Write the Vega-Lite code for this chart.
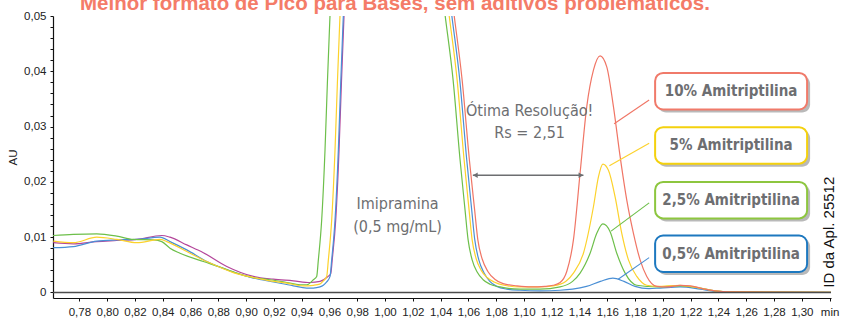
{
  "$schema": "https://vega.github.io/schema/vega-lite/v6.json",
  "autosize": {"type": "none"},
  "width": 778,
  "height": 282,
  "padding": {"left": 53, "top": 16, "right": 14, "bottom": 20},
  "background": "white",
  "config": {"view": {"stroke": null}, "axis": {"grid": false}},
  "datasets": {
    "curves": [
      {"s":"p","x":0.7612,"y":0.0090},{"s":"p","x":0.7756,"y":0.0088},{"s":"p","x":0.7925,"y":0.0092},{"s":"p","x":0.8069,"y":0.0094},{"s":"p","x":0.8213,"y":0.0096},{"s":"p","x":0.8393,"y":0.0103},{"s":"p","x":0.8452,"y":0.0100},{"s":"p","x":0.8573,"y":0.0086},{"s":"p","x":0.8692,"y":0.0072},{"s":"p","x":0.8861,"y":0.0047},{"s":"p","x":0.9052,"y":0.0029},{"s":"p","x":0.9196,"y":0.0024},{"s":"p","x":0.9340,"y":0.0021},{"s":"p","x":0.9460,"y":0.0018},{"s":"p","x":0.9532,"y":0.0020},{"s":"p","x":0.9585,"y":0.0028},{"s":"p","x":0.9609,"y":0.0034},{"s":"p","x":0.9621,"y":0.0062},{"s":"p","x":0.9645,"y":0.0131},{"s":"p","x":0.9669,"y":0.0258},{"s":"p","x":0.9686,"y":0.0379},{"s":"p","x":0.9705,"y":0.0502},{"s":"p","x":0.9728,"y":0.0650},{"s":"p","x":1.0000,"y":0.5000},
      {"s":"b","x":0.7612,"y":0.0081},{"s":"b","x":0.7756,"y":0.0083},{"s":"b","x":0.7925,"y":0.0093},{"s":"b","x":0.8069,"y":0.0095},{"s":"b","x":0.8213,"y":0.0096},{"s":"b","x":0.8380,"y":0.0100},{"s":"b","x":0.8452,"y":0.0092},{"s":"b","x":0.8573,"y":0.0077},{"s":"b","x":0.8717,"y":0.0056},{"s":"b","x":0.8861,"y":0.0041},{"s":"b","x":0.9052,"y":0.0026},{"s":"b","x":0.9196,"y":0.0019},{"s":"b","x":0.9340,"y":0.0012},{"s":"b","x":0.9436,"y":0.0008},{"s":"b","x":0.9484,"y":0.0008},{"s":"b","x":0.9532,"y":0.0010},{"s":"b","x":0.9556,"y":0.0013},{"s":"b","x":0.9580,"y":0.0019},{"s":"b","x":0.9604,"y":0.0029},{"s":"b","x":0.9616,"y":0.0059},{"s":"b","x":0.9640,"y":0.0131},{"s":"b","x":0.9664,"y":0.0258},{"s":"b","x":0.9681,"y":0.0379},{"s":"b","x":0.9700,"y":0.0502},{"s":"b","x":0.9723,"y":0.0650},{"s":"b","x":1.0000,"y":0.5000},{"s":"b","x":1.0407,"y":0.0650},{"s":"b","x":1.0480,"y":0.0502},{"s":"b","x":1.0538,"y":0.0384},{"s":"b","x":1.0588,"y":0.0240},{"s":"b","x":1.0624,"y":0.0149},{"s":"b","x":1.0646,"y":0.0095},{"s":"b","x":1.0675,"y":0.0059},{"s":"b","x":1.0711,"y":0.0036},{"s":"b","x":1.0754,"y":0.0020},{"s":"b","x":1.0804,"y":0.0011},{"s":"b","x":1.0876,"y":0.0006},{"s":"b","x":1.0972,"y":0.0004},{"s":"b","x":1.1116,"y":0.0003},{"s":"b","x":1.1260,"y":0.0004},{"s":"b","x":1.1350,"y":0.0006},{"s":"b","x":1.1450,"y":0.0011},{"s":"b","x":1.1550,"y":0.0020},{"s":"b","x":1.1640,"y":0.0026},{"s":"b","x":1.1720,"y":0.0020},{"s":"b","x":1.1800,"y":0.0011},{"s":"b","x":1.1900,"y":0.0007},{"s":"b","x":1.1980,"y":0.0008},{"s":"b","x":1.2124,"y":0.0010},{"s":"b","x":1.2268,"y":0.0006},{"s":"b","x":1.2376,"y":0.0002},{"s":"b","x":1.2484,"y":0.0001},{"s":"b","x":1.3211,"y":0.0000},
      {"s":"g","x":0.7610,"y":0.0103},{"s":"g","x":0.7756,"y":0.0105},{"s":"g","x":0.7925,"y":0.0106},{"s":"g","x":0.8069,"y":0.0102},{"s":"g","x":0.8188,"y":0.0096},{"s":"g","x":0.8332,"y":0.0095},{"s":"g","x":0.8393,"y":0.0092},{"s":"g","x":0.8452,"y":0.0080},{"s":"g","x":0.8524,"y":0.0071},{"s":"g","x":0.8692,"y":0.0056},{"s":"g","x":0.8812,"y":0.0046},{"s":"g","x":0.8933,"y":0.0035},{"s":"g","x":0.9052,"y":0.0027},{"s":"g","x":0.9172,"y":0.0023},{"s":"g","x":0.9293,"y":0.0018},{"s":"g","x":0.9388,"y":0.0014},{"s":"g","x":0.9436,"y":0.0014},{"s":"g","x":0.9484,"y":0.0023},{"s":"g","x":0.9508,"y":0.0029},{"s":"g","x":0.9520,"y":0.0059},{"s":"g","x":0.9544,"y":0.0131},{"s":"g","x":0.9568,"y":0.0258},{"s":"g","x":0.9585,"y":0.0379},{"s":"g","x":0.9604,"y":0.0502},{"s":"g","x":0.9627,"y":0.0650},{"s":"g","x":1.0000,"y":0.5000},{"s":"g","x":1.0359,"y":0.0650},{"s":"g","x":1.0432,"y":0.0502},{"s":"g","x":1.0490,"y":0.0384},{"s":"g","x":1.0540,"y":0.0240},{"s":"g","x":1.0576,"y":0.0149},{"s":"g","x":1.0598,"y":0.0095},{"s":"g","x":1.0627,"y":0.0059},{"s":"g","x":1.0663,"y":0.0037},{"s":"g","x":1.0706,"y":0.0023},{"s":"g","x":1.0756,"y":0.0015},{"s":"g","x":1.0828,"y":0.0010},{"s":"g","x":1.0972,"y":0.0006},{"s":"g","x":1.1116,"y":0.0006},{"s":"g","x":1.1260,"y":0.0010},{"s":"g","x":1.1350,"y":0.0020},{"s":"g","x":1.1404,"y":0.0035},{"s":"g","x":1.1476,"y":0.0071},{"s":"g","x":1.1524,"y":0.0107},{"s":"g","x":1.1568,"y":0.0124},{"s":"g","x":1.1620,"y":0.0110},{"s":"g","x":1.1668,"y":0.0071},{"s":"g","x":1.1728,"y":0.0035},{"s":"g","x":1.1812,"y":0.0013},{"s":"g","x":1.1958,"y":0.0010},{"s":"g","x":1.2124,"y":0.0012},{"s":"g","x":1.2268,"y":0.0008},{"s":"g","x":1.2376,"y":0.0003},{"s":"g","x":1.2484,"y":0.0001},{"s":"g","x":1.3211,"y":0.0000},
      {"s":"y","x":0.7612,"y":0.0093},{"s":"y","x":0.7756,"y":0.0090},{"s":"y","x":0.7925,"y":0.0100},{"s":"y","x":0.8069,"y":0.0096},{"s":"y","x":0.8213,"y":0.0090},{"s":"y","x":0.8380,"y":0.0096},{"s":"y","x":0.8429,"y":0.0092},{"s":"y","x":0.8573,"y":0.0074},{"s":"y","x":0.8717,"y":0.0056},{"s":"y","x":0.8908,"y":0.0036},{"s":"y","x":0.9052,"y":0.0027},{"s":"y","x":0.9172,"y":0.0021},{"s":"y","x":0.9293,"y":0.0017},{"s":"y","x":0.9412,"y":0.0012},{"s":"y","x":0.9484,"y":0.0013},{"s":"y","x":0.9530,"y":0.0015},{"s":"y","x":0.9556,"y":0.0021},{"s":"y","x":0.9580,"y":0.0029},{"s":"y","x":0.9592,"y":0.0059},{"s":"y","x":0.9616,"y":0.0131},{"s":"y","x":0.9640,"y":0.0258},{"s":"y","x":0.9657,"y":0.0379},{"s":"y","x":0.9676,"y":0.0502},{"s":"y","x":0.9699,"y":0.0650},{"s":"y","x":1.0000,"y":0.5000},{"s":"y","x":1.0388,"y":0.0650},{"s":"y","x":1.0461,"y":0.0502},{"s":"y","x":1.0519,"y":0.0384},{"s":"y","x":1.0569,"y":0.0240},{"s":"y","x":1.0605,"y":0.0149},{"s":"y","x":1.0627,"y":0.0095},{"s":"y","x":1.0656,"y":0.0061},{"s":"y","x":1.0692,"y":0.0040},{"s":"y","x":1.0735,"y":0.0027},{"s":"y","x":1.0785,"y":0.0019},{"s":"y","x":1.0857,"y":0.0013},{"s":"y","x":1.0972,"y":0.0010},{"s":"y","x":1.1116,"y":0.0010},{"s":"y","x":1.1210,"y":0.0012},{"s":"y","x":1.1300,"y":0.0020},{"s":"y","x":1.1356,"y":0.0035},{"s":"y","x":1.1428,"y":0.0071},{"s":"y","x":1.1500,"y":0.0155},{"s":"y","x":1.1536,"y":0.0209},{"s":"y","x":1.1568,"y":0.0232},{"s":"y","x":1.1608,"y":0.0221},{"s":"y","x":1.1656,"y":0.0173},{"s":"y","x":1.1704,"y":0.0107},{"s":"y","x":1.1752,"y":0.0059},{"s":"y","x":1.1812,"y":0.0029},{"s":"y","x":1.1884,"y":0.0013},{"s":"y","x":1.1958,"y":0.0011},{"s":"y","x":1.2124,"y":0.0013},{"s":"y","x":1.2268,"y":0.0008},{"s":"y","x":1.2376,"y":0.0003},{"s":"y","x":1.2484,"y":0.0001},{"s":"y","x":1.3211,"y":0.0000},
      {"s":"r","x":1.0000,"y":0.5000},{"s":"r","x":1.0424,"y":0.0650},{"s":"r","x":1.0497,"y":0.0502},{"s":"r","x":1.0555,"y":0.0384},{"s":"r","x":1.0607,"y":0.0240},{"s":"r","x":1.0645,"y":0.0149},{"s":"r","x":1.0668,"y":0.0095},{"s":"r","x":1.0700,"y":0.0060},{"s":"r","x":1.0740,"y":0.0038},{"s":"r","x":1.0790,"y":0.0024},{"s":"r","x":1.0850,"y":0.0016},{"s":"r","x":1.0950,"y":0.0012},{"s":"r","x":1.1050,"y":0.0010},{"s":"r","x":1.1150,"y":0.0011},{"s":"r","x":1.1210,"y":0.0013},{"s":"r","x":1.1260,"y":0.0018},{"s":"r","x":1.1308,"y":0.0038},{"s":"r","x":1.1356,"y":0.0095},{"s":"r","x":1.1404,"y":0.0216},{"s":"r","x":1.1452,"y":0.0336},{"s":"r","x":1.1500,"y":0.0402},{"s":"r","x":1.1548,"y":0.0428},{"s":"r","x":1.1596,"y":0.0408},{"s":"r","x":1.1644,"y":0.0336},{"s":"r","x":1.1692,"y":0.0246},{"s":"r","x":1.1740,"y":0.0167},{"s":"r","x":1.1788,"y":0.0107},{"s":"r","x":1.1836,"y":0.0059},{"s":"r","x":1.1884,"y":0.0029},{"s":"r","x":1.1956,"y":0.0011},{"s":"r","x":1.2030,"y":0.0010},{"s":"r","x":1.2124,"y":0.0013},{"s":"r","x":1.2200,"y":0.0012},{"s":"r","x":1.2268,"y":0.0008},{"s":"r","x":1.2376,"y":0.0003},{"s":"r","x":1.2484,"y":0.0001},{"s":"r","x":1.3211,"y":0.0000}
    ],
    "zero": [{"x": 0.761, "x2": 1.321, "y": 0}],
    "leaders": [
      {"s":"r","x":1.1649,"y":0.0305,"x2":1.1901,"y2":0.0348},
      {"s":"y","x":1.1615,"y":0.0229,"x2":1.1901,"y2":0.0270},
      {"s":"g","x":1.1627,"y":0.0111,"x2":1.1901,"y2":0.0162},
      {"s":"b","x":1.1678,"y":0.0024,"x2":1.1901,"y2":0.0063}
    ],
    "boxes": [
      {"s":"r","x":1.1944,"x2":1.3038,"y":0.0331,"y2":0.0397},
      {"s":"y","x":1.1944,"x2":1.3038,"y":0.0233,"y2":0.0299},
      {"s":"g","x":1.1944,"x2":1.3038,"y":0.0134,"y2":0.0200},
      {"s":"b","x":1.1944,"x2":1.3038,"y":0.0037,"y2":0.0103}
    ],
    "boxlabels": [
      {"s":"r","text":"10% Amitriptilina","x":1.2491,"y":0.0364},
      {"s":"y","text":"5% Amitriptilina","x":1.2491,"y":0.0266},
      {"s":"g","text":"2,5% Amitriptilina","x":1.2491,"y":0.0167},
      {"s":"b","text":"0,5% Amitriptilina","x":1.2491,"y":0.0070}
    ],
    "arrow": [{"x":1.0632,"x2":1.1428,"y":0.0212}],
    "heads": [{"end":"start","x":1.0650,"y":0.0212},{"end":"end","x":1.1410,"y":0.0212}],
    "notes": [
      {"text":"Ótima Resolução!","x":1.1041,"y":0.0329},
      {"text":"Rs = 2,51","x":1.1041,"y":0.0289},
      {"text":"Imipramina","x":1.0090,"y":0.0160},
      {"text":"(0,5 mg/mL)","x":1.0090,"y":0.0119}
    ],
    "idtext": [{"text":"ID da Apl. 25512","x":1.3197,"y":0.0109}],
    "headline": [{"text":"Melhor formato de Pico para Bases, sem aditivos problemáticos.","x":0.7804,"y":0.0511}]
  },
  "encoding": {
    "x": {"field": "x", "type": "quantitative", "scale": {"domain": [0.761, 1.321], "nice": false, "zero": false},
      "axis": {"title": null, "values": [0.78,0.8,0.82,0.84,0.86,0.88,0.9,0.92,0.94,0.96,0.98,1.0,1.02,1.04,1.06,1.08,1.1,1.12,1.14,1.16,1.18,1.2,1.22,1.24,1.26,1.28,1.3,1.32],
        "labelExpr": "datum.value > 1.31 ? 'min' : replace(format(datum.value, '.2f'), '.', ',')",
        "tickSize": 3, "labelPadding": 5, "domainColor": "#111", "tickColor": "#111", "domainWidth": 1.2,
        "labelFont": "Liberation Sans", "labelFontSize": 11.5, "labelColor": "#222", "labelFlush": false, "labelOverlap": false}},
    "y": {"field": "y", "type": "quantitative", "scale": {"domain": [-0.001, 0.05], "nice": false, "zero": false},
      "axis": {"title": "AU", "values": [0,0.002,0.004,0.006,0.008,0.01,0.012,0.014,0.016,0.018,0.02,0.022,0.024,0.026,0.028,0.03,0.032,0.034,0.036,0.038,0.04,0.042,0.044,0.046,0.048,0.05],
        "labelExpr": "abs(datum.value*100 - round(datum.value*100)) < 0.01 ? (datum.value == 0 ? '0' : replace(format(datum.value, '.2f'), '.', ',')) : ''",
        "tickSize": 3, "labelPadding": 4, "domainColor": "#111", "tickColor": "#111", "domainWidth": 1.2,
        "labelFont": "Liberation Sans", "labelFontSize": 11.5, "labelColor": "#222", "labelFlush": false, "labelOverlap": false,
        "titleFont": "Liberation Sans", "titleFontSize": 11.5, "titleFontWeight": "normal", "titleColor": "#222", "titlePadding": 5}}
  },
  "layer": [
    {
      "data": {"name": "curves"},
      "mark": {"type": "line", "interpolate": "monotone", "strokeWidth": 1.2, "clip": true},
      "encoding": {
        "color": {"field": "s", "type": "nominal", "legend": null,
          "scale": {"domain": ["p","r","y","g","b"], "range": ["#b4469b","#f07565","#fcd22c","#6dbf4a","#4a8fd5"]}}
      }
    },
    {
      "data": {"name": "zero"},
      "mark": {"type": "rule", "color": "#4d4d4d", "strokeWidth": 1.6},
      "encoding": {"x2": {"field": "x2"}}
    },
    {
      "data": {"name": "leaders"},
      "mark": {"type": "rule", "strokeWidth": 1.1},
      "encoding": {
        "x2": {"field": "x2"},
        "y2": {"field": "y2"},
        "color": {"field": "s", "type": "nominal", "legend": null}
      }
    },
    {
      "data": {"name": "arrow"},
      "mark": {"type": "rule", "color": "#6d6e71", "strokeWidth": 1.3},
      "encoding": {"x2": {"field": "x2"}}
    },
    {
      "data": {"name": "heads"},
      "mark": {"type": "point", "filled": true, "color": "#6d6e71", "opacity": 1, "size": 30},
      "encoding": {
        "shape": {"field": "end", "type": "nominal", "legend": null, "scale": {"domain": ["start","end"], "range": ["triangle-left","triangle-right"]}}
      }
    },
    {
      "data": {"name": "boxes"},
      "mark": {"type": "rect", "fill": "#808080", "opacity": 0.55, "cornerRadius": 8, "xOffset": 3, "x2Offset": 3, "yOffset": 3, "y2Offset": 3},
      "encoding": {"x2": {"field": "x2"}, "y2": {"field": "y2"}}
    },
    {
      "data": {"name": "boxes"},
      "mark": {"type": "rect", "fill": "white", "strokeWidth": 2, "cornerRadius": 8},
      "encoding": {
        "x2": {"field": "x2"},
        "y2": {"field": "y2"},
        "stroke": {"field": "s", "type": "nominal", "legend": null,
          "scale": {"domain": ["r","y","g","b"], "range": ["#f07a6a","#f4d10e","#8dc63f","#1d78bf"]}}
      }
    },
    {
      "data": {"name": "boxlabels"},
      "mark": {"type": "text", "font": "'Liberation Sans Narrow', 'DejaVu Sans Condensed', Roboto, sans-serif", "fontWeight": "bold", "fontSize": 15, "color": "#6d6e71", "align": "center", "baseline": "middle"},
      "encoding": {"text": {"field": "text"}}
    },
    {
      "data": {"name": "notes"},
      "mark": {"type": "text", "font": "'Liberation Sans Narrow', 'DejaVu Sans Condensed', Roboto, sans-serif", "fontSize": 16, "color": "#6d6e71", "align": "center", "baseline": "middle"},
      "encoding": {"text": {"field": "text"}}
    },
    {
      "data": {"name": "idtext"},
      "mark": {"type": "text", "font": "Liberation Sans", "fontSize": 15, "color": "#111", "align": "center", "baseline": "middle", "angle": 270},
      "encoding": {"text": {"field": "text"}}
    },
    {
      "data": {"name": "headline"},
      "mark": {"type": "text", "font": "Liberation Sans", "fontSize": 20.5, "fontWeight": "bold", "color": "#f47c68", "align": "left", "baseline": "alphabetic"},
      "encoding": {"text": {"field": "text"}}
    }
  ]
}
